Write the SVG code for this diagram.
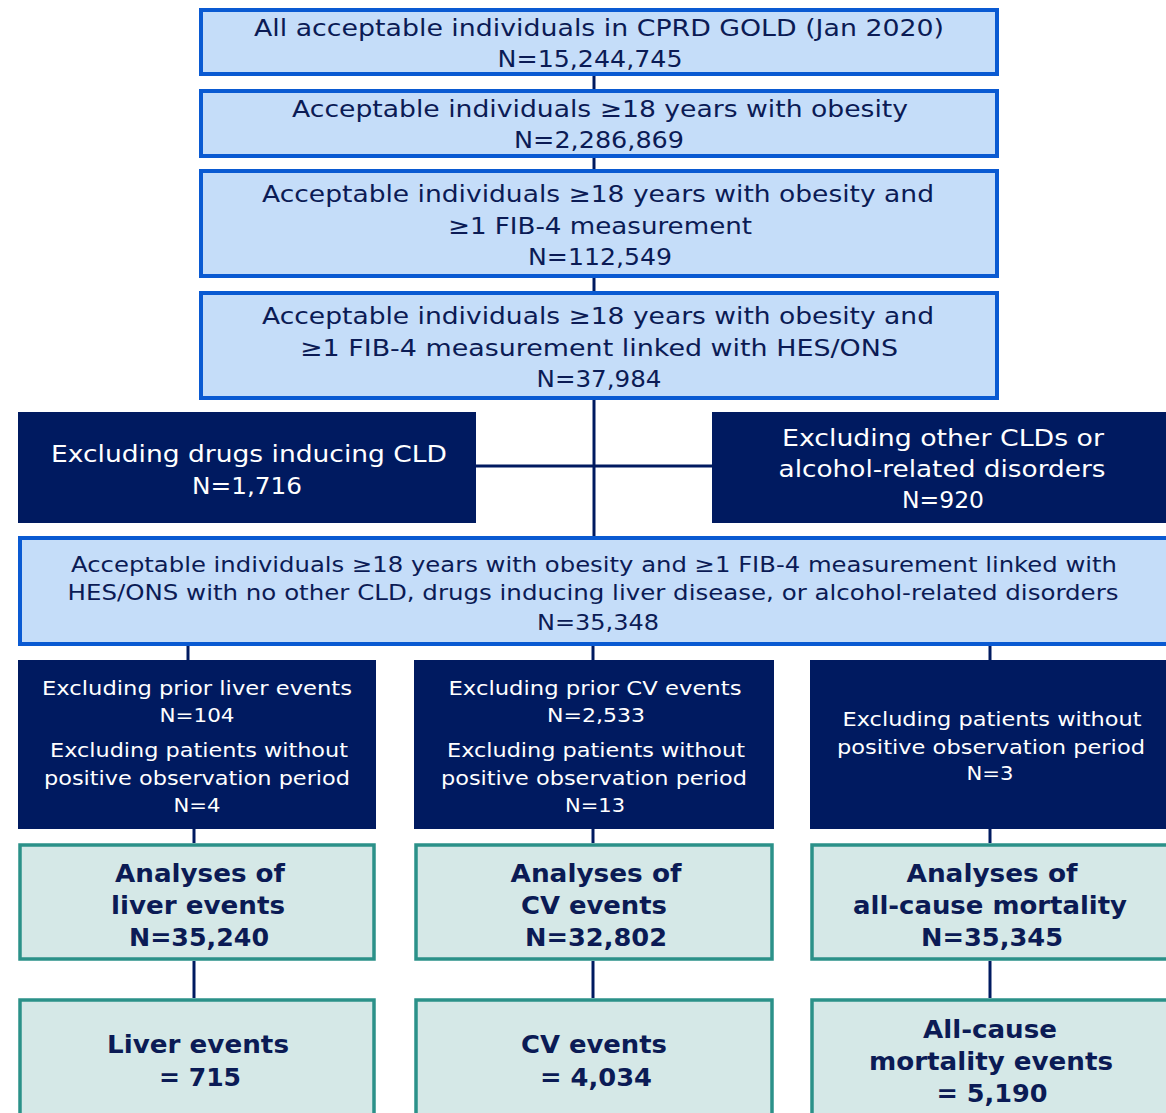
<svg xmlns="http://www.w3.org/2000/svg" width="1166" height="1113" viewBox="0 0 1166 1113" xml:space="preserve">
<style>
.lb{fill:#c5ddf9;stroke:#0a5ad2;stroke-width:4}
.nv{fill:#001a60}
.tl{fill:#d5e8e7;stroke:#2b9189;stroke-width:3.5}
.cn{stroke:#001a60;stroke-width:3;fill:none}
text{font-family:"DejaVu Sans","Verdana",sans-serif;text-anchor:middle}
.t1{font-size:23px;fill:#0b1b55}
.t2{font-size:21px;fill:#0b1b55}
.w1{font-size:23px;fill:#ffffff}
.w2{font-size:19.5px;fill:#ffffff}
.b{font-size:24.5px;font-weight:bold;fill:#0b1b55}
</style>
<rect width="1166" height="1113" fill="#ffffff"/>
<g id="connectors">
<line class="cn" x1="594" y1="76" x2="594" y2="89"/>
<line class="cn" x1="594" y1="158" x2="594" y2="169"/>
<line class="cn" x1="594" y1="278" x2="594" y2="291"/>
<line class="cn" x1="594" y1="400" x2="594" y2="536"/>
<line class="cn" x1="476" y1="466" x2="712" y2="466"/>
<line class="cn" x1="188" y1="646" x2="188" y2="660"/>
<line class="cn" x1="593" y1="646" x2="593" y2="660"/>
<line class="cn" x1="990" y1="646" x2="990" y2="660"/>
<line class="cn" x1="194" y1="829" x2="194" y2="843"/>
<line class="cn" x1="593" y1="829" x2="593" y2="843"/>
<line class="cn" x1="990" y1="829" x2="990" y2="843"/>
<line class="cn" x1="194" y1="961" x2="194" y2="998"/>
<line class="cn" x1="593" y1="961" x2="593" y2="998"/>
<line class="cn" x1="990" y1="961" x2="990" y2="998"/>
</g>
<g id="n1">
<rect class="lb" x="201" y="10" width="796" height="64"/>
<text class="t1" x="599" y="36" textLength="690" lengthAdjust="spacingAndGlyphs">All acceptable individuals  in CPRD  GOLD  (Jan 2020)</text>
<text class="t1" x="590" y="67" textLength="185" lengthAdjust="spacingAndGlyphs">N=15,244,745</text>
</g>
<g id="n2">
<rect class="lb" x="201" y="91" width="796" height="65"/>
<text class="t1" x="600" y="117" textLength="616" lengthAdjust="spacingAndGlyphs">Acceptable individuals  ≥18  years with obesity</text>
<text class="t1" x="599" y="148" textLength="170" lengthAdjust="spacingAndGlyphs">N=2,286,869</text>
</g>
<g id="n3">
<rect class="lb" x="201" y="171" width="796" height="105"/>
<text class="t1" x="598" y="202" textLength="672" lengthAdjust="spacingAndGlyphs">Acceptable individuals  ≥18  years with obesity and</text>
<text class="t1" x="600" y="234" textLength="304" lengthAdjust="spacingAndGlyphs">≥1  FIB-4  measurement</text>
<text class="t1" x="600" y="265" textLength="144" lengthAdjust="spacingAndGlyphs">N=112,549</text>
</g>
<g id="n4">
<rect class="lb" x="201" y="293" width="796" height="105"/>
<text class="t1" x="598" y="324" textLength="672" lengthAdjust="spacingAndGlyphs">Acceptable individuals  ≥18  years with obesity and</text>
<text class="t1" x="599" y="356" textLength="598" lengthAdjust="spacingAndGlyphs">≥1  FIB-4  measurement  linked  with HES/ONS</text>
<text class="t1" x="599" y="387" textLength="125" lengthAdjust="spacingAndGlyphs">N=37,984</text>
</g>
<g id="excl1">
<rect class="nv" x="18" y="412" width="458" height="111"/>
<text class="w1" x="249" y="462" textLength="396" lengthAdjust="spacingAndGlyphs">Excluding  drugs inducing  CLD</text>
<text class="w1" x="247" y="494" textLength="110" lengthAdjust="spacingAndGlyphs">N=1,716</text>
</g>
<g id="excl2">
<rect class="nv" x="712" y="412" width="458" height="111"/>
<text class="w1" x="943" y="446" textLength="322" lengthAdjust="spacingAndGlyphs">Excluding  other CLDs  or</text>
<text class="w1" x="942" y="477" textLength="327" lengthAdjust="spacingAndGlyphs">alcohol-related  disorders</text>
<text class="w1" x="943" y="508" textLength="82" lengthAdjust="spacingAndGlyphs">N=920</text>
</g>
<g id="n5">
<rect class="lb" x="20" y="538" width="1152" height="106"/>
<text class="t2" x="594" y="572" textLength="1046" lengthAdjust="spacingAndGlyphs">Acceptable individuals ≥18 years with obesity and ≥1 FIB-4 measurement linked with</text>
<text class="t2" x="593" y="600" textLength="1051" lengthAdjust="spacingAndGlyphs">HES/ONS with no other CLD, drugs inducing liver disease, or alcohol-related disorders</text>
<text class="t2" x="598" y="630" textLength="122" lengthAdjust="spacingAndGlyphs">N=35,348</text>
</g>
<g id="excl3">
<rect class="nv" x="18" y="660" width="358" height="169"/>
<text class="w2" x="197" y="695" textLength="310" lengthAdjust="spacingAndGlyphs">Excluding prior liver events</text>
<text class="w2" x="197" y="722" textLength="75" lengthAdjust="spacingAndGlyphs">N=104</text>
<text class="w2" x="199" y="757" textLength="298" lengthAdjust="spacingAndGlyphs">Excluding patients without</text>
<text class="w2" x="197" y="785" textLength="306" lengthAdjust="spacingAndGlyphs">positive observation period</text>
<text class="w2" x="197" y="812" textLength="47" lengthAdjust="spacingAndGlyphs">N=4</text>
</g>
<g id="excl4">
<rect class="nv" x="414" y="660" width="360" height="169"/>
<text class="w2" x="595" y="695" textLength="293" lengthAdjust="spacingAndGlyphs">Excluding prior CV events</text>
<text class="w2" x="596" y="722" textLength="98" lengthAdjust="spacingAndGlyphs">N=2,533</text>
<text class="w2" x="596" y="757" textLength="298" lengthAdjust="spacingAndGlyphs">Excluding patients without</text>
<text class="w2" x="594" y="785" textLength="306" lengthAdjust="spacingAndGlyphs">positive observation period</text>
<text class="w2" x="595" y="812" textLength="60" lengthAdjust="spacingAndGlyphs">N=13</text>
</g>
<g id="excl5">
<rect class="nv" x="810" y="660" width="360" height="169"/>
<text class="w2" x="992" y="726" textLength="299" lengthAdjust="spacingAndGlyphs">Excluding patients without</text>
<text class="w2" x="991" y="754" textLength="308" lengthAdjust="spacingAndGlyphs">positive observation period</text>
<text class="w2" x="990" y="780" textLength="47" lengthAdjust="spacingAndGlyphs">N=3</text>
</g>
<g id="a1">
<rect class="tl" x="20" y="845" width="354" height="114"/>
<text class="b" x="200" y="882" textLength="170" lengthAdjust="spacingAndGlyphs">Analyses of</text>
<text class="b" x="198" y="914" textLength="174" lengthAdjust="spacingAndGlyphs">liver events</text>
<text class="b" x="199" y="946" textLength="140" lengthAdjust="spacingAndGlyphs">N=35,240</text>
</g>
<g id="a2">
<rect class="tl" x="416" y="845" width="356" height="114"/>
<text class="b" x="596" y="882" textLength="171" lengthAdjust="spacingAndGlyphs">Analyses of</text>
<text class="b" x="594" y="914" textLength="146" lengthAdjust="spacingAndGlyphs">CV events</text>
<text class="b" x="596" y="946" textLength="142" lengthAdjust="spacingAndGlyphs">N=32,802</text>
</g>
<g id="a3">
<rect class="tl" x="812" y="845" width="358" height="114"/>
<text class="b" x="992" y="882" textLength="171" lengthAdjust="spacingAndGlyphs">Analyses of</text>
<text class="b" x="990" y="914" textLength="274" lengthAdjust="spacingAndGlyphs">all-cause mortality</text>
<text class="b" x="992" y="946" textLength="142" lengthAdjust="spacingAndGlyphs">N=35,345</text>
</g>
<g id="e1">
<rect class="tl" x="20" y="1000" width="354" height="130"/>
<text class="b" x="198" y="1053" textLength="182" lengthAdjust="spacingAndGlyphs">Liver events</text>
<text class="b" x="200" y="1086" textLength="82" lengthAdjust="spacingAndGlyphs">= 715</text>
</g>
<g id="e2">
<rect class="tl" x="416" y="1000" width="356" height="130"/>
<text class="b" x="594" y="1053" textLength="146" lengthAdjust="spacingAndGlyphs">CV events</text>
<text class="b" x="596" y="1086" textLength="112" lengthAdjust="spacingAndGlyphs">= 4,034</text>
</g>
<g id="e3">
<rect class="tl" x="812" y="1000" width="358" height="130"/>
<text class="b" x="990" y="1038" textLength="134" lengthAdjust="spacingAndGlyphs">All-cause</text>
<text class="b" x="991" y="1070" textLength="244" lengthAdjust="spacingAndGlyphs">mortality  events</text>
<text class="b" x="992" y="1102" textLength="111" lengthAdjust="spacingAndGlyphs">= 5,190</text>
</g>
</svg>
